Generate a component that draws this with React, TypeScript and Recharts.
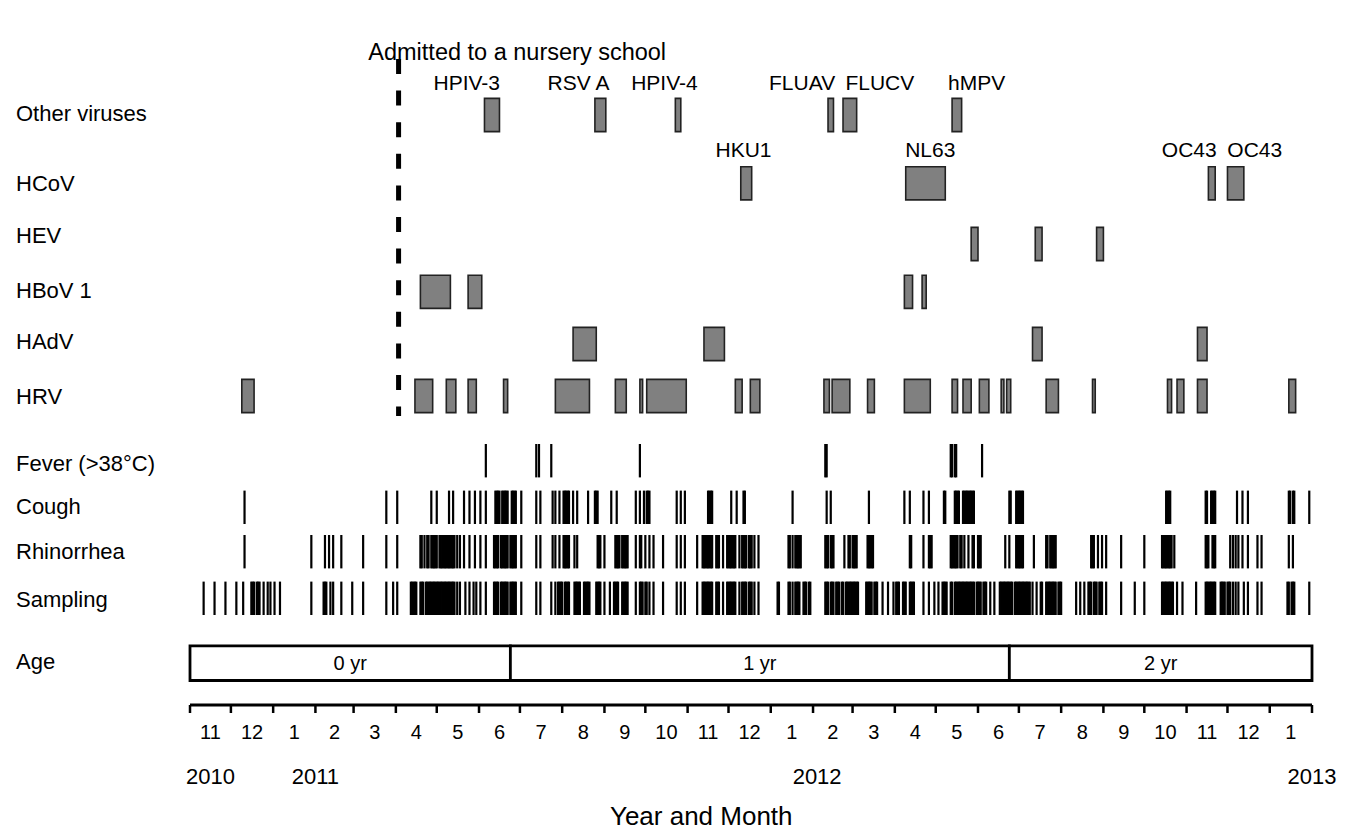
import React from "react";
import {
  ComposedChart,
  XAxis,
  YAxis,
  Scatter,
  ReferenceArea,
  ReferenceLine,
  ReferenceDot,
  Label,
} from "recharts";

const FONT = "'Liberation Sans', Arial, Helvetica, sans-serif";

// every x value is a day counted from 1 Nov 2010
const START = Date.UTC(2010, 10, 1);
const dayOf = (year: number, month: number) =>
  Math.round((Date.UTC(year, month - 1, 1) - START) / 86400000);

const monthLabels = [
  "11", "12", "1", "2", "3", "4", "5", "6", "7", "8", "9", "10", "11", "12",
  "1", "2", "3", "4", "5", "6", "7", "8", "9", "10", "11", "12", "1",
];
const yearLabels = ["2010", "2011", "2012", "2013"];
const yearDays = [15, 92, 460, 823];

const admissionDay = 153;
const ageBands: [number, number, string][] = [
  [0, 235, "0 yr"],
  [235, 601, "1 yr"],
  [601, 823, "2 yr"],
];

// detected viruses, [first day, last day]
const otherViruses: [number, number][] = [
  [216, 227], [297, 305], [356, 360], [468, 472], [479, 489], [559, 566],
];
const otherNames = [
  { text: "HPIV-3", day: 203 },
  { text: "RSV A", day: 285 },
  { text: "HPIV-4", day: 348 },
  { text: "FLUAV", day: 449 },
  { text: "FLUCV", day: 506 },
  { text: "hMPV", day: 577 },
];
const hcov: [number, number][] = [[404, 412], [525, 554], [747, 752], [761, 773]];
const hcovNames = [
  { text: "HKU1", day: 406 },
  { text: "NL63", day: 543 },
  { text: "OC43", day: 733 },
  { text: "OC43", day: 781 },
];
const hev: [number, number][] = [[573, 578], [620, 625], [665, 670]];
const hbov: [number, number][] = [[169, 191], [204, 214], [524, 530], [537, 540]];
const hadv: [number, number][] = [[281, 298], [377, 392], [618, 625], [739, 746]];
const hrv: [number, number][] = [
  [38, 47], [165, 178], [188, 195], [204, 210], [230, 233], [268, 293],
  [312, 320], [330, 332], [335, 364], [400, 405], [411, 418], [465, 469],
  [471, 484], [497, 502], [524, 543], [559, 563], [567, 573], [579, 586],
  [595, 597], [599, 602], [628, 637], [662, 664], [717, 720], [724, 729],
  [739, 746], [806, 811],
];

// symptom days: a number is one day, a pair is a run of days
type Mark = number | [number, number];
const fever: Mark[] = [217, 254, 256, 265, 330, [466, 467], [558, 559], [561, 562], 581];
const cough: Mark[] = [
  40, 144, 152, 177, 181, 190, 193, 201, 205, 209, 213, 217, [224, 227], [229, 233],
  [236, 239], 243, 254, 257, 266, 268, 271, [274, 278], 281, 284, 292, [297, 299],
  309, 313, 327, 330, 333, [335, 337], 357, 360, 363, [380, 383], 397, 401,
  [406, 407], 442, 467, 470, 498, 524, 528, 538, 542, [553, 554], [561, 564],
  [567, 575], [601, 602], [606, 611], [716, 719], [745, 746], [749, 752], 768,
  772, 776, [806, 807], [809, 810], 821,
];
const rhinorrhea: Mark[] = [
  40, 89, 99, 102, 105, 111, 127, 144, 152, [169, 170], 172, [174, 175],
  [177, 181], [183, 194], 196, 198, 201, 205, 209, 213, 217, [223, 226],
  [228, 233], [235, 239], 243, 254, 257, 266, 268, 271, [274, 278], 282, 284,
  [299, 301], 304, [312, 315], [317, 321], 327, [330, 331], 334, 337, 340, 347,
  357, 360, 363, 372, [376, 383], [386, 388], 391, [394, 400], 403, [405, 408],
  [410, 412], 414, 417, [439, 440], 442, [444, 448], [466, 468], [470, 472], 480,
  [483, 484], [486, 489], [497, 501], [528, 529], 538, [542, 544], [558, 563],
  [565, 566], 568, 571, [574, 575], [578, 580], 598, 601, [606, 611], 619,
  [628, 629], [631, 635], [661, 663], 666, 669, 672, 683, 700, [713, 720], 722,
  [745, 747], [750, 752], 763, 765, 767, 769, 772, 776, 783, 786, 806, 809,
];
const sampling: Mark[] = [
  10, 18, 26, 34, 39, [45, 47], [49, 51], 54, 57, 59, 62, 66, 89, [98, 100], 103,
  105, 111, 119, 127, 144, 149, 152, [162, 166], [169, 171], [173, 176],
  [177, 182], [183, 194], 196, 198, 202, 205, 208, 210, 213, 217, [223, 226],
  [228, 233], [235, 239], 243, 254, 257, 265, 268, [270, 273], [275, 278],
  [282, 286], [289, 293], [298, 301], 304, 308, [311, 314], [317, 321], 327,
  [330, 332], [334, 335], 337, 340, 347, 357, 360, 363, 372, [376, 383],
  [386, 388], 391, [394, 400], 403, [405, 408], [410, 412], 414, 417, [431, 432],
  [439, 440], 442, [444, 447], [450, 452], [454, 455], [466, 468], [470, 472],
  [474, 476], [478, 479], [481, 483], [484, 490], [496, 500], [502, 504], 508,
  512, 516, [518, 520], [523, 525], [528, 531], 538, 542, 546, 549, [552, 555],
  [558, 559], [561, 575], [577, 580], [582, 584], 587, 590, [594, 598],
  [599, 603], [605, 610], [611, 614], [615, 616], 618, 621, 624, 625, [628, 631],
  [632, 635], [637, 639], 650, 653, 656, [659, 661], [663, 665], [667, 669], 672,
  683, 693, 700, [713, 720], 721, 724, 728, 738, [745, 748], [749, 752],
  [756, 759], [761, 763], 765, 767, 769, 773, 776, 783, 786, [805, 806],
  [808, 810], 821,
];

// row layout (y units are chart pixels of the lane centres)
const LANE = {
  other: 115, hcov: 183.3, hev: 244, hbov: 291.8, hadv: 344, hrv: 396,
  fever: 460.7, cough: 507.3, rhino: 551.7, sampling: 598.3, age: 663.2,
};
const rowNames = [
  "Other viruses", "HCoV", "HEV", "HBoV 1", "HAdV", "HRV",
  "Fever (>38°C)", "Cough", "Rhinorrhea", "Sampling", "Age",
];
const rowNameY = [113, 183, 235, 290, 341, 396, 463, 506, 551, 599, 661];

const monthStarts: number[] = [];
for (let i = 0; i <= 27; i++) {
  monthStarts.push(dayOf(2010 + Math.floor((10 + i) / 12), ((10 + i) % 12) + 1));
}
const monthMids = monthLabels.map((_, i) => (monthStarts[i] + monthStarts[i + 1]) / 2);

const toPoints = (marks: Mark[], lane: number) =>
  marks
    .flatMap((m) => {
      if (!Array.isArray(m)) return [m];
      const out: number[] = [];
      for (let d = m[0]; d <= m[1]; d++) out.push(d);
      return out;
    })
    .map((day) => ({ day, lane }));

const SymptomMark = (props: any) => {
  const { cx, cy } = props;
  if (cx == null || cy == null) return null;
  return <rect x={cx - 1.1} y={cy - 16.7} width={2.2} height={33.4} fill="#000" />;
};

const RowName = (props: any) => {
  const { y, payload } = props;
  const i = rowNameY.indexOf(payload.value);
  return (
    <text x={8} y={y} dy="0.35em" fontSize={22} fontFamily={FONT} fill="#000">
      {rowNames[i]}
    </text>
  );
};

const BoundaryTick = (props: any) => {
  const { x, y } = props;
  return <line x1={x} x2={x} y1={y} y2={y + 8} stroke="#000" strokeWidth={2.5} />;
};

const MonthTick = (props: any) => {
  const { x, y, index } = props;
  return (
    <text x={x} y={y + 19} dy="0.35em" textAnchor="middle" fontSize={20} fontFamily={FONT} fill="#000">
      {monthLabels[index]}
    </text>
  );
};

const YearTick = (props: any) => {
  const { x, y, index } = props;
  return (
    <text x={x} y={y + 18} dy="0.35em" textAnchor="middle" fontSize={22} fontFamily={FONT} fill="#000">
      {yearLabels[index]}
    </text>
  );
};

function virusBoxes(rows: [number, number][], lane: number, key: string) {
  return rows.map(([a, b], i) => (
    <ReferenceArea
      key={`${key}-${i}`}
      x1={a}
      x2={b}
      y1={lane - 16.6}
      y2={lane + 16.6}
      fill="#808080"
      fillOpacity={1}
      stroke="#222"
      strokeWidth={1.6}
    />
  ));
}

function virusNames(names: { text: string; day: number }[], y: number, key: string) {
  return names.map((n, i) => (
    <ReferenceDot
      key={`${key}-${i}`}
      x={n.day}
      y={y}
      r={0}
      fill="none"
      stroke="none"
      label={{ value: n.text, position: "center", fontSize: 21, fill: "#000", fontFamily: FONT }}
    />
  ));
}

export default function App() {
  return (
    <div style={{ width: 1335, height: 824, background: "#fff" }}>
      <ComposedChart width={1335} height={824} margin={{ top: 22, right: 31, bottom: 0, left: 0 }}>
        <XAxis
          dataKey="day"
          type="number"
          domain={[0, 823]}
          ticks={monthStarts}
          interval={0}
          tick={<BoundaryTick />}
          tickSize={0}
          tickMargin={0}
          tickLine={false}
          axisLine={{ stroke: "#000", strokeWidth: 3 }}
          height={8}
          allowDataOverflow
        />
        <XAxis
          xAxisId="months"
          dataKey="day"
          type="number"
          domain={[0, 823]}
          ticks={monthMids}
          interval={0}
          tick={<MonthTick />}
          tickSize={0}
          tickMargin={0}
          tickLine={false}
          axisLine={false}
          height={45}
          allowDataOverflow
        />
        <XAxis
          xAxisId="years"
          dataKey="day"
          type="number"
          domain={[0, 823]}
          ticks={yearDays}
          interval={0}
          tick={<YearTick />}
          tickSize={0}
          tickMargin={0}
          tickLine={false}
          axisLine={false}
          height={74}
          allowDataOverflow
        >
          <Label
            content={(p: any) => {
              const vb = p.viewBox || {};
              return (
                <text
                  x={vb.x + (vb.width * 375) / 823}
                  y={vb.y + 67}
                  textAnchor="middle"
                  fontSize={26}
                  fontFamily={FONT}
                  fill="#000"
                >
                  Year and Month
                </text>
              );
            }}
          />
        </XAxis>
        <YAxis
          dataKey="lane"
          type="number"
          domain={[30, 705]}
          reversed
          width={182}
          ticks={rowNameY}
          interval={0}
          tick={<RowName />}
          axisLine={false}
          tickLine={false}
          allowDataOverflow
        />

        {virusBoxes(otherViruses, LANE.other, "oth")}
        {virusBoxes(hcov, LANE.hcov, "hcov")}
        {virusBoxes(hev, LANE.hev, "hev")}
        {virusBoxes(hbov, LANE.hbov, "hbov")}
        {virusBoxes(hadv, LANE.hadv, "hadv")}
        {virusBoxes(hrv, LANE.hrv, "hrv")}
        {virusNames(otherNames, 83, "othn")}
        {virusNames(hcovNames, 150, "hcovn")}

        {ageBands.map(([a, b, text]) => (
          <ReferenceArea
            key={text}
            x1={a}
            x2={b}
            y1={LANE.age - 17.3}
            y2={LANE.age + 17.3}
            fill="#fff"
            fillOpacity={1}
            stroke="#000"
            strokeWidth={2.8}
            label={{ value: text, position: "center", fontSize: 20, fill: "#000", fontFamily: FONT }}
          />
        ))}

        <ReferenceLine
          segment={[
            { x: admissionDay, y: 59 },
            { x: admissionDay, y: 416 },
          ]}
          stroke="#000"
          strokeWidth={5}
          strokeDasharray="15 16.6"
        />
        <ReferenceDot
          x={240}
          y={52}
          r={0}
          fill="none"
          stroke="none"
          label={{
            value: "Admitted to a nursery school",
            position: "center",
            fontSize: 23.5,
            fill: "#000",
            fontFamily: FONT,
          }}
        />

        <Scatter data={toPoints(fever, LANE.fever)} shape={<SymptomMark />} isAnimationActive={false} />
        <Scatter data={toPoints(cough, LANE.cough)} shape={<SymptomMark />} isAnimationActive={false} />
        <Scatter data={toPoints(rhinorrhea, LANE.rhino)} shape={<SymptomMark />} isAnimationActive={false} />
        <Scatter data={toPoints(sampling, LANE.sampling)} shape={<SymptomMark />} isAnimationActive={false} />
      </ComposedChart>
    </div>
  );
}
